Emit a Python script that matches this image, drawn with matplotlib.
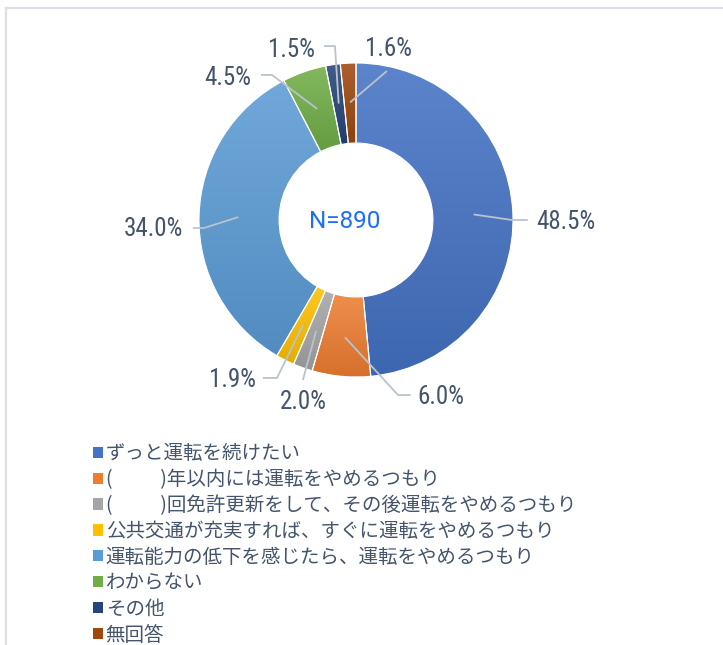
import numpy as np
import matplotlib
matplotlib.use("Agg")
import matplotlib.pyplot as plt
from matplotlib.colors import to_rgb
from matplotlib.patches import Patch
from matplotlib.lines import Line2D

plt.rcParams['font.family'] = ['Noto Sans CJK JP', 'DejaVu Sans']

# data
categories = [
    "ずっと運転を続けたい",
    "(　　  )年以内には運転をやめるつもり",
    "(　　  )回免許更新をして、その後運転をやめるつもり",
    "公共交通が充実すれば、すぐに運転をやめるつもり",
    "運転能力の低下を感じたら、運転をやめるつもり",
    "わからない",
    "その他",
    "無回答",
]
shares = [48.5, 6.0, 2.0, 1.9, 34.0, 4.5, 1.5, 1.6]
total_n = 890

colors = ["#4472C4", "#ED7D31", "#A5A5A5", "#FFC000",
          "#5B9BD5", "#70AD47", "#264478", "#9E480E"]

TEXT_COLOR = "#44546A"
LEADER_COLOR = "#B9C3CF"

# leader line layout per label (data units, radius = 1):
# elbow point, horizontal tick, text position, ha, va
label_layout = [
    ((0.994, 0.0), 0.10, (1.15, -0.012), "left", "center"),
    ((0.268, -1.115), 0.08, (0.39, -1.13), "left", "center"),
    ((-0.338, -1.019), 0.0, (-0.338, -1.08), "center", "top"),
    ((-0.503, -1.006), -0.09, (-0.64, -1.018), "right", "center"),
    ((-0.968, -0.051), -0.07, (-1.10, -0.058), "right", "center"),
    ((-0.535, 0.924), -0.07, (-0.665, 0.905), "right", "center"),
    ((-0.134, 1.108), -0.07, (-0.258, 1.085), "right", "center"),
    ((0.197, 0.949), 0.0, (0.204, 1.015), "center", "bottom"),
]

R_PX = 157.0
CX, CY = 356.0, 220.0
W, H = 723, 645


def blend(c, target, f):
    c = np.array(to_rgb(c))
    return c + (np.array(target) - c) * f


fig = plt.figure(figsize=(W / 100, H / 100), dpi=100)
ax = fig.add_axes([0, 0, 1, 1])

wedges, _ = ax.pie(shares, colors=colors, startangle=90, counterclock=False,
                   radius=1.0,
                   wedgeprops=dict(width=0.51, edgecolor="white", linewidth=0.8))

# vertical gradient inside each wedge, like the Office fill
for w, c in zip(wedges, colors):
    bb = w.get_path().get_extents()
    top = blend(c, (1, 1, 1), 0.13)
    bot = blend(c, (0, 0, 0), 0.10)
    t = np.linspace(0, 1, 128)[:, None, None]
    img = top[None, None, :] * (1 - t) + bot[None, None, :] * t
    im = ax.imshow(img, extent=[bb.x0, bb.x1, bb.y0, bb.y1], origin="upper",
                   aspect="auto", zorder=1, interpolation="bilinear")
    im.set_clip_path(w)
    w.set_facecolor("none")
    w.set_zorder(3)

# labels with leader lines
for w, v, (elbow, dx, txy, ha, va) in zip(wedges, shares, label_layout):
    mid = np.deg2rad((w.theta1 + w.theta2) / 2)
    ax0, ay0 = 0.75 * np.cos(mid), 0.75 * np.sin(mid)
    xs = [ax0, elbow[0], elbow[0] + dx]
    ys = [ay0, elbow[1], elbow[1]]
    ax.plot(xs, ys, color=LEADER_COLOR, lw=1.3, zorder=4,
            solid_capstyle="butt")
    ax.text(txy[0], txy[1], f"{v:.1f}%", ha=ha, va=va,
            fontsize=18, color=TEXT_COLOR,
            family=["Roboto Condensed", "DejaVu Sans"], zorder=5)

ax.text(-0.07, -0.01, f"N={total_n}", ha="center", va="center",
        fontsize=17.5, color="#1C6EF2", family=["Roboto", "DejaVu Sans"])

ax.set_xlim(-CX / R_PX, (W - CX) / R_PX)
ax.set_ylim((CY - H) / R_PX, CY / R_PX)
ax.set_aspect("equal")
ax.axis("off")

handles = [Patch(facecolor=c, edgecolor="none") for c in colors]
fig.legend(handles, categories, loc="upper left",
           bbox_to_anchor=(93 / W, 1 - 443 / H), frameon=False,
           fontsize=14, labelcolor=TEXT_COLOR,
           handlelength=0.5, handleheight=0.5, handletextpad=0.15,
           labelspacing=0.255, borderpad=0, borderaxespad=0)

# light frame at left and top
fig.add_artist(Line2D([6 / W, 6 / W], [0, 1 - 8 / H], color="#DCE0E6", lw=1.6))
fig.add_artist(Line2D([6 / W, 1], [1 - 8 / H, 1 - 8 / H], color="#DCE0E6", lw=1.6))

fig.savefig("out.png", dpi=100)
